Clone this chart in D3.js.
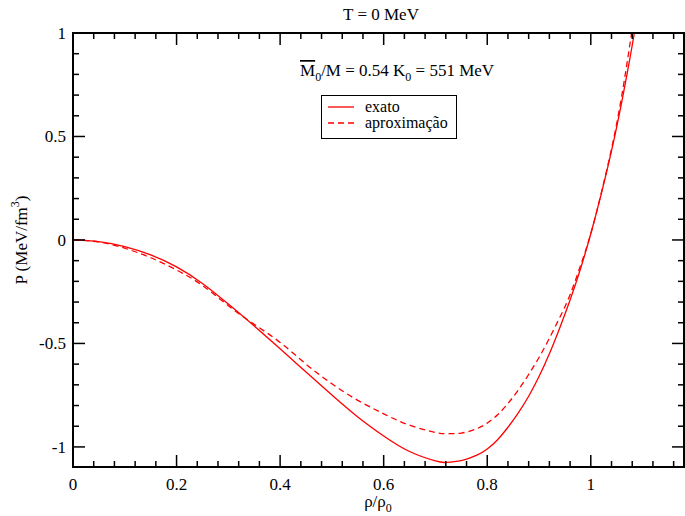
<!DOCTYPE html>
<html><head><meta charset="utf-8">
<script src="https://cdn.jsdelivr.net/npm/d3@7"></script>
<style>body{margin:0;background:#fff} svg text{font-family:"Times New Roman", Times, "Liberation Serif", "Nimbus Roman", "DejaVu Serif", serif !important;}</style>
</head><body><svg id="c" width="685" height="516"></svg>
<script>
const rho   = [0, 0.05, 0.10, 0.15, 0.20, 0.25, 0.30, 0.35, 0.40, 0.45, 0.50, 0.55, 0.60, 0.65, 0.70, 0.72, 0.75, 0.78, 0.80, 0.82, 0.84, 0.86, 0.88, 0.90, 0.92, 0.94, 0.96, 0.98, 1.00, 1.02, 1.04, 1.06, 1.08, 1.10];
const exato = [0, -0.008, -0.032, -0.072, -0.130, -0.210, -0.310, -0.416, -0.526, -0.638, -0.749, -0.855, -0.947, -1.022, -1.068, -1.075, -1.066, -1.040, -1.010, -0.965, -0.905, -0.835, -0.755, -0.660, -0.550, -0.425, -0.290, -0.140, 0.030, 0.220, 0.430, 0.670, 0.940, 1.230];
const aprox = [0, -0.010, -0.040, -0.086, -0.145, -0.220, -0.318, -0.408, -0.495, -0.600, -0.695, -0.775, -0.840, -0.895, -0.930, -0.936, -0.933, -0.912, -0.885, -0.845, -0.790, -0.725, -0.650, -0.568, -0.475, -0.375, -0.265, -0.125, 0.030, 0.225, 0.440, 0.700, 1.020, 1.360];
const xTicks = [0, 0.2, 0.4, 0.6, 0.8, 1];
const xTickLabels = ["0", "0.2", "0.4", "0.6", "0.8", "1"];
const yTicks = [-1, -0.5, 0, 0.5, 1];
const yTickLabels = ["-1", "-0.5", "0", "0.5", "1"];
const legendLabels = ["exato", "aproximação"];

const svg = d3.select("#c");
const L = 73, R = 684, T = 33, B = 467;
const x = d3.scaleLinear().domain([0, 1.18]).range([L, R]);
const y = d3.scaleLinear().domain([-1.097, 1]).range([B, T]);

svg.append("clipPath").attr("id", "cp").append("rect").attr("x", L).attr("y", T).attr("width", R - L).attr("height", B - T);

const line = d3.line().x((d, i) => x(rho[i])).y(d => y(d)).curve(d3.curveNatural);
const g = svg.append("g").attr("clip-path", "url(#cp)");
g.append("path").attr("d", line(exato)).attr("fill", "none").attr("stroke", "#ff0000").attr("stroke-width", 1.3);
g.append("path").attr("d", line(aprox)).attr("fill", "none").attr("stroke", "#ff0000").attr("stroke-width", 1.3).attr("stroke-dasharray", "6,4");

svg.append("rect").attr("x", L).attr("y", T).attr("width", R - L).attr("height", B - T).attr("fill", "none").attr("stroke", "#000").attr("stroke-width", 2);

const minorX = d3.range(0, 1.181, 0.04).filter(v => Math.abs(v / 0.2 - Math.round(v / 0.2)) > 1e-6);
const minorY = d3.range(-1.0, 1.001, 0.1).map(v => Math.round(v * 10) / 10).filter(v => Math.abs(v * 2 - Math.round(v * 2)) > 1e-6);

const tk = svg.append("g").attr("stroke", "#000").attr("stroke-width", 1.5);
function xt(vals, len) { vals.forEach(v => { const px = x(v);
  tk.append("line").attr("x1", px).attr("x2", px).attr("y1", B).attr("y2", B - len);
  tk.append("line").attr("x1", px).attr("x2", px).attr("y1", T).attr("y2", T + len); }); }
function yt(vals, len) { vals.forEach(v => { const py = y(v);
  tk.append("line").attr("x1", L).attr("x2", L + len).attr("y1", py).attr("y2", py);
  tk.append("line").attr("x1", R).attr("x2", R - len).attr("y1", py).attr("y2", py); }); }
xt(xTicks, 12); xt(minorX, 6); yt(yTicks, 12); yt(minorY, 6);

xTicks.forEach((v, i) => svg.append("text").attr("x", x(v)).attr("y", 490).attr("text-anchor", "middle").attr("font-size", 17).text(xTickLabels[i]));
yTicks.forEach((v, i) => svg.append("text").attr("x", 66).attr("y", y(v) + 6).attr("text-anchor", "end").attr("font-size", 17).text(yTickLabels[i]));

const xl = svg.append("text").attr("x", 378).attr("y", 507).attr("text-anchor", "middle").attr("font-size", 17);
xl.append("tspan").text("ρ/ρ");
xl.append("tspan").attr("font-size", 12).attr("dy", 5).text("0");
const yl = svg.append("text").attr("transform", "translate(27,240) rotate(-90)").attr("text-anchor", "middle").attr("font-size", 17);
yl.append("tspan").text("P (MeV/fm");
yl.append("tspan").attr("font-size", 12).attr("dy", -8).text("3");
yl.append("tspan").attr("dy", 8).text(")");

svg.append("text").attr("x", 381).attr("y", 20).attr("text-anchor", "middle").attr("font-size", 17).text("T = 0 MeV");

const an = svg.append("text").attr("x", 300).attr("y", 76).attr("font-size", 17);
an.append("tspan").attr("text-decoration", "overline").text("M");
an.append("tspan").attr("font-size", 12).attr("dy", 5).text("0");
an.append("tspan").attr("dy", -5).text("/M = 0.54 K");
an.append("tspan").attr("font-size", 12).attr("dy", 5).text("0");
an.append("tspan").attr("dy", -5).text(" = 551 MeV");

const lg = svg.append("g");
lg.append("rect").attr("x", 321.5).attr("y", 95.5).attr("width", 135).attr("height", 43).attr("fill", "#fff").attr("stroke", "#000").attr("stroke-width", 1);
lg.append("line").attr("x1", 328).attr("x2", 354).attr("y1", 107).attr("y2", 107).attr("stroke", "#ff0000").attr("stroke-width", 1.3);
lg.append("line").attr("x1", 328).attr("x2", 354).attr("y1", 123).attr("y2", 123).attr("stroke", "#ff0000").attr("stroke-width", 1.3).attr("stroke-dasharray", "6,4");
legendLabels.forEach((t, i) => lg.append("text").attr("x", 365).attr("y", 112 + i * 15.5).attr("font-size", 16).text(t));
</script></body></html>
